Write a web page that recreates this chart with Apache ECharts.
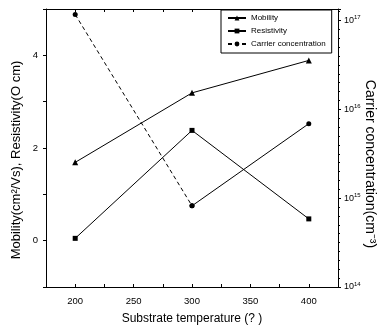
<!DOCTYPE html>
<html>
<head>
<meta charset="utf-8">
<script src="https://cdn.jsdelivr.net/npm/echarts@6/dist/echarts.min.js"></script>
<style>
  html, body { margin: 0; padding: 0; background: #fff; }
  #chart { width: 380px; height: 329px; }
</style>
</head>
<body>
<div id="chart"></div>
<script>
// values
const temperatures = [200, 300, 400];
const mobility = [1.69, 3.19, 3.89];
const resistivity = [0.05, 2.38, 0.47];
const carrier = [1.17e17, 8.2e14, 6.9e15];
const xTickLabels = [200, 250, 300, 350, 400];

const font = 'Liberation Sans Narrow, Arial Narrow, Liberation Sans, sans-serif';

const chart = echarts.init(document.getElementById('chart'));

// carrier concentration goes on a log axis, drawn as exponent
const carrierPts = temperatures.map((t, i) => [t, Math.log10(carrier[i])]);

const option = {
  animation: false,
  backgroundColor: '#fff',
  grid: { left: 46, right: 42, top: 9, bottom: 42, containLabel: false, outerBoundsMode: 'none' },
  legend: {
    data: ['Mobility', 'Resistivity', 'Carrier concentration'],
    orient: 'vertical',
    left: 221,
    top: 10,
    itemWidth: 18,
    itemHeight: 6,
    itemGap: 5,
    padding: [4, 6, 5, 6],
    borderColor: '#000',
    borderWidth: 1,
    borderRadius: 0,
    backgroundColor: '#fff',
    textStyle: { fontSize: 8, color: '#000', fontFamily: font }
  },
  xAxis: [
    {
      type: 'value',
      min: 175,
      max: 425,
      interval: 25,
      name: 'Substrate temperature (? )',
      nameLocation: 'middle',
      nameGap: 26,
      nameTextStyle: { fontSize: 12, color: '#000', fontFamily: font },
      axisLine: { onZero: false, lineStyle: { color: '#000', width: 1 } },
      axisTick: { inside: true, length: 3, lineStyle: { color: '#000' } },
      axisLabel: {
        fontSize: 9.5, color: '#000', fontFamily: font, margin: 9,
        formatter: v => (xTickLabels.includes(v) ? String(v) : '')
      },
      splitLine: { show: false }
    },
    {
      type: 'value',
      position: 'top',
      min: 175,
      max: 425,
      interval: 25,
      axisLine: { onZero: false, lineStyle: { color: '#000', width: 1 } },
      axisTick: { inside: true, length: 3, lineStyle: { color: '#000' } },
      axisLabel: { show: false },
      splitLine: { show: false }
    }
  ],
  yAxis: [
    {
      type: 'value',
      min: -1,
      max: 5,
      interval: 1,
      name: 'Mobility(cm²/Vs), Resistivity(O cm)',
      nameLocation: 'middle',
      nameGap: 23,
      nameMoveOverlap: false,
      nameTextStyle: {
        fontSize: 13, color: '#000', fontFamily: 'Liberation Sans, Arial, sans-serif',
        padding: [0, 24, 0, 0]
      },
      axisLine: { onZero: false, lineStyle: { color: '#000', width: 1 } },
      axisTick: { length: 3, lineStyle: { color: '#000' } },
      axisLabel: {
        fontSize: 9.5, color: '#000', fontFamily: font, margin: 8,
        formatter: v => (v >= 0 && v % 2 === 0 ? String(v) : '')
      },
      splitLine: { show: false }
    },
    {
      type: 'value',
      position: 'right',
      min: 14,
      max: 17.13,
      interval: 1,
      name: 'Carrier concentration(cm⁻³)',
      nameLocation: 'middle',
      nameRotate: -90,
      nameGap: 25,
      nameMoveOverlap: false,
      nameTextStyle: {
        fontSize: 14, color: '#000', fontFamily: 'Liberation Sans, Arial, sans-serif',
        padding: [0, 0, 0, 32]
      },
      axisLine: { onZero: false, lineStyle: { color: '#000', width: 1 } },
      axisTick: { length: 3, lineStyle: { color: '#000' } },
      minorTick: { show: true, splitNumber: 10, length: 2, lineStyle: { color: '#000' } },
      axisLabel: {
        color: '#000', fontFamily: font, fontSize: 9, margin: 6,
        formatter: v => (Number.isInteger(v) ? '10{sup|' + v + '}' : ''),
        rich: { sup: { fontSize: 6, verticalAlign: 'top', padding: [0, 0, 6, 0], fontFamily: font } }
      },
      splitLine: { show: false }
    }
  ],
  series: [
    {
      name: 'Mobility',
      type: 'line',
      xAxisIndex: 0,
      yAxisIndex: 0,
      data: temperatures.map((t, i) => [t, mobility[i]]),
      symbol: 'triangle',
      symbolSize: 6,
      itemStyle: { color: '#000' },
      lineStyle: { color: '#000', width: 1 }
    },
    {
      name: 'Resistivity',
      type: 'line',
      xAxisIndex: 0,
      yAxisIndex: 0,
      data: temperatures.map((t, i) => [t, resistivity[i]]),
      symbol: 'rect',
      symbolSize: 5,
      itemStyle: { color: '#000' },
      lineStyle: { color: '#000', width: 1 }
    },
    {
      name: 'Carrier concentration',
      type: 'line',
      xAxisIndex: 0,
      yAxisIndex: 1,
      data: carrierPts.slice(0, 2),
      symbol: 'circle',
      symbolSize: 5,
      itemStyle: { color: '#000' },
      lineStyle: { color: '#000', width: 1, type: [4, 3] }
    },
    {
      name: 'carrier-tail',
      type: 'line',
      xAxisIndex: 0,
      yAxisIndex: 1,
      data: carrierPts.slice(1),
      symbol: 'circle',
      symbolSize: 5,
      itemStyle: { color: '#000' },
      lineStyle: { color: '#000', width: 1 }
    }
  ]
};

chart.setOption(option);
</script>
</body>
</html>
